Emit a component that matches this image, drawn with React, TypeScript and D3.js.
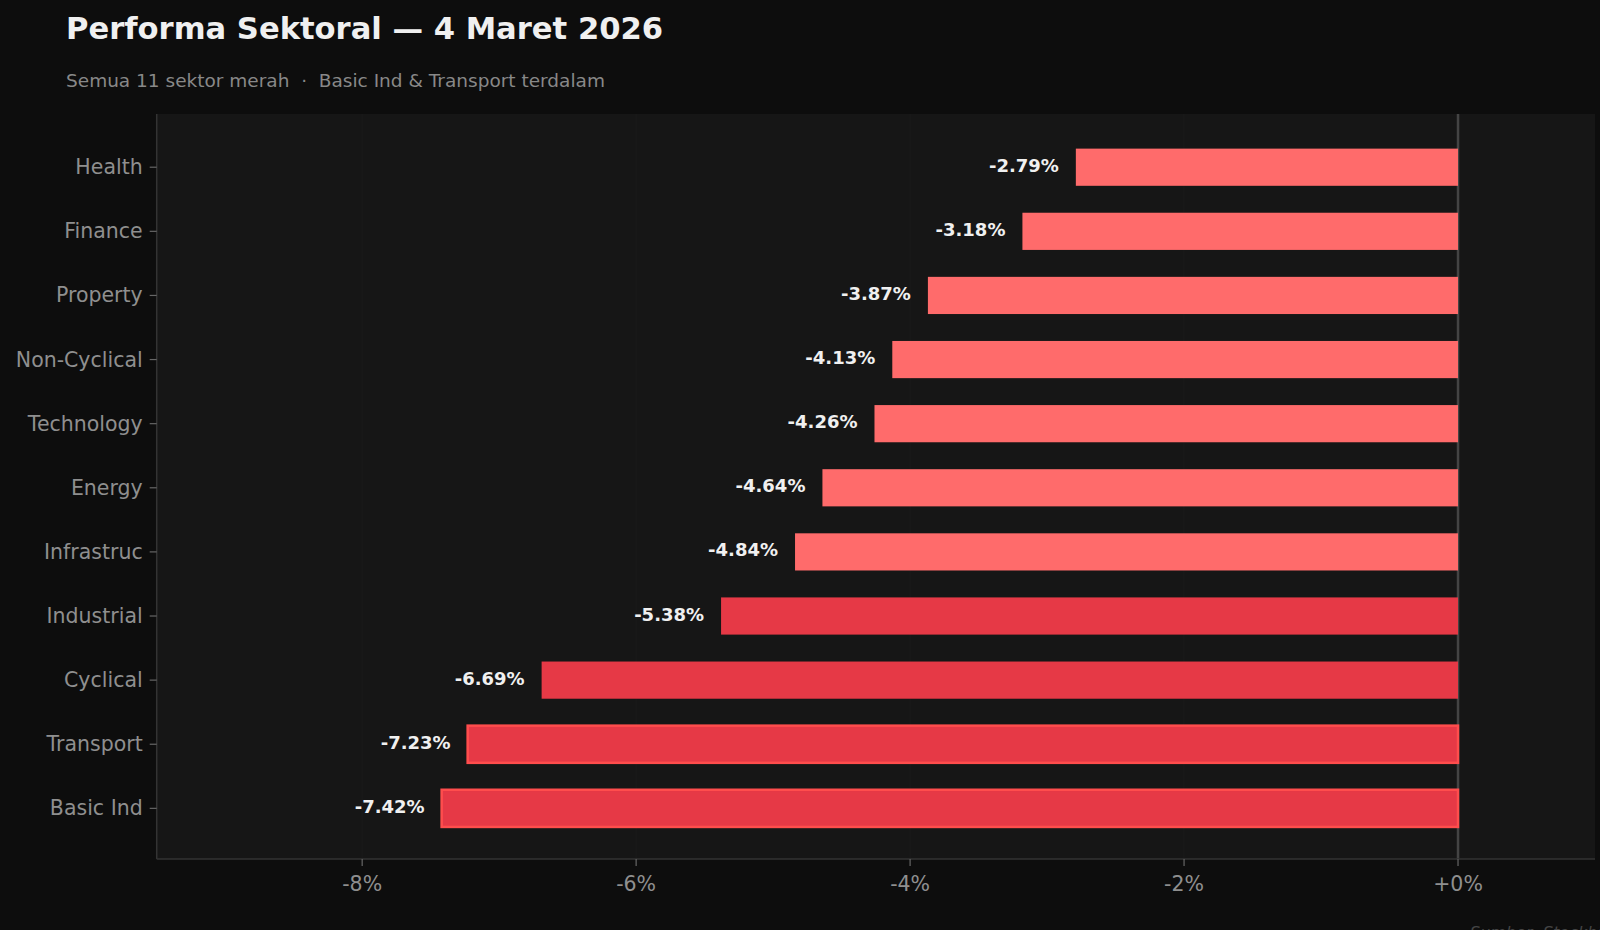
import * as d3 from 'd3'

// sector performance, top to bottom
const sectors = ['Health', 'Finance', 'Property', 'Non-Cyclical', 'Technology', 'Energy', 'Infrastruc', 'Industrial', 'Cyclical', 'Transport', 'Basic Ind']
const changes = [-2.79, -3.18, -3.87, -4.13, -4.26, -4.64, -4.84, -5.38, -6.69, -7.23, -7.42]
const xTicks = [-8, -6, -4, -2, 0]
const highlighted = ['Transport', 'Basic Ind']

const W = 1600
const H = 930
const margin = { top: 114, right: 5, bottom: 71, left: 156.7 }
const FONT = '"DejaVu Sans", sans-serif'

export default function App() {
  const innerW = W - margin.left - margin.right
  const innerH = H - margin.top - margin.bottom

  const x = d3.scaleLinear().domain([-9.5, 1.0]).range([0, innerW])
  const y = d3.scaleLinear().domain([-0.83, sectors.length - 1 + 0.79]).range([0, innerH])
  const barH = y(0.58) - y(0)

  const fmt = (v: number) => (v === 0 ? '+0%' : `${v}%`)

  return (
    <svg width={W} height={H} style={{ display: 'block', position: 'absolute', left: 0, top: 0, background: '#0d0d0d' }}>
      <rect width={W} height={H} fill="#0d0d0d" />
      <text x={66} y={39} fill="#f0f0f0" fontFamily={FONT} fontWeight="bold" fontSize={30.6}>
        Performa Sektoral — 4 Maret 2026
      </text>
      <text x={66} y={87} fill="#888" fontFamily={FONT} fontSize={18.5} xmlSpace="preserve">
        Semua 11 sektor merah  ·  Basic Ind &amp; Transport terdalam
      </text>

      <g transform={`translate(${margin.left},${margin.top})`}>
        <rect width={innerW} height={innerH} fill="#161616" />
        {xTicks.map(t => (
          <line key={'g' + t} x1={x(t)} x2={x(t)} y1={0} y2={innerH} stroke="#1b1b1b" strokeWidth={1} />
        ))}
        <line x1={x(0)} x2={x(0)} y1={0} y2={innerH} stroke="#444" strokeWidth={2.5} />

        {sectors.map((s, i) => {
          const v = changes[i]
          const hi = highlighted.includes(s)
          const dark = v < -5
          return (
            <g key={s}>
              <rect
                x={x(v)}
                y={y(i) - barH / 2}
                width={x(0) - x(v)}
                height={barH}
                fill={dark ? '#e63946' : '#ff6b6b'}
                stroke={hi ? '#ff4d4d' : 'none'}
                strokeWidth={hi ? 2.5 : 0}
              />
              <text
                x={x(v) - 17}
                y={y(i) - 2}
                textAnchor="end"
                dominantBaseline="central"
                fill="#f0f0f0"
                fontFamily={FONT}
                fontWeight="bold"
                fontSize={18}
              >
                {`${v.toFixed(2)}%`}
              </text>
            </g>
          )
        })}

        <line x1={0} x2={0} y1={0} y2={innerH} stroke="#333" strokeWidth={1.5} />
        <line x1={0} x2={innerW} y1={innerH} y2={innerH} stroke="#333" strokeWidth={1.5} />

        {sectors.map((s, i) => (
          <g key={'yt' + s} transform={`translate(0,${y(i)})`}>
            <line x1={-7} x2={0} stroke="#666" strokeWidth={1.2} />
            <text x={-14} textAnchor="end" dominantBaseline="central" fill="#8f8f8f" fontFamily={FONT} fontSize={20.5}>
              {s}
            </text>
          </g>
        ))}

        {xTicks.map(t => (
          <g key={'xt' + t} transform={`translate(${x(t)},${innerH})`}>
            <line y1={0} y2={7} stroke="#666" strokeWidth={1.2} />
            <text y={32} textAnchor="middle" fill="#8f8f8f" fontFamily={FONT} fontSize={20.5}>
              {fmt(t)}
            </text>
          </g>
        ))}
      </g>

      <text x={1470} y={938} fill="#444" fontFamily={FONT} fontStyle="italic" fontSize={16}>
        Sumber: Stockbit
      </text>
    </svg>
  )
}
